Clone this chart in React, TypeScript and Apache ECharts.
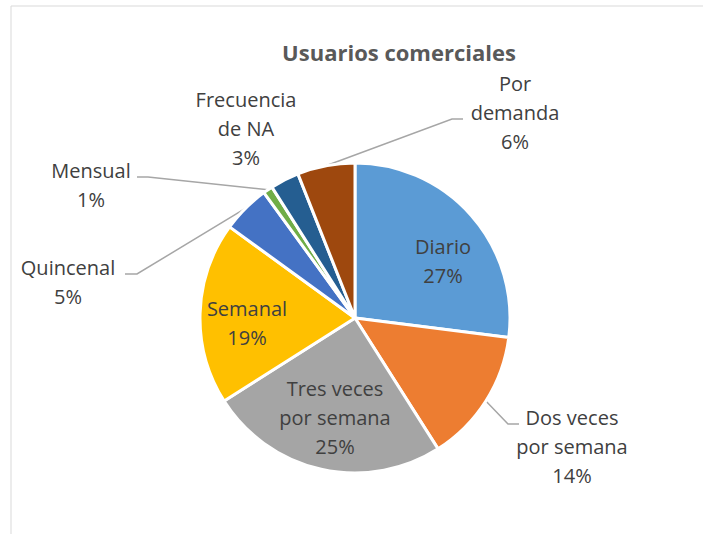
import React, { useEffect, useRef } from "react";
import * as echarts from "echarts";

// ---- data ----
const chartTitle = "Usuarios comerciales";
const categories = [
  "Diario",
  "Dos veces\npor semana",
  "Tres veces\npor semana",
  "Semanal",
  "Quincenal",
  "Mensual",
  "Frecuencia\nde NA",
  "Por\ndemanda",
];
const values = [27, 14, 25, 19, 5, 1, 3, 6];
const colors = ["#5B9BD5", "#ED7D31", "#A5A5A5", "#FFC000", "#4472C4", "#70AD47", "#255E91", "#9E480E"];

// ---- layout (positions only) ----
const CENTER: [number, number] = [355, 318];
const RADIUS = 155;
type Place = { x: number; y: number; inside?: boolean; line?: number[][] };
const placements: Place[] = [
  { x: 443, y: 261, inside: true },
  { x: 572, y: 446, line: [[508, 424], [519, 424]] },
  { x: 335, y: 417, inside: true },
  { x: 247, y: 323, inside: true },
  { x: 68, y: 282, line: [[137, 274], [125, 274]] },
  { x: 91, y: 185, line: [[148, 177], [137, 177]] },
  { x: 246, y: 128 },
  { x: 515, y: 112, line: [[452, 119], [463, 119]] },
];

const FONT = "'Open Sans', 'Noto Sans', sans-serif";

export default function App() {
  const ref = useRef<HTMLDivElement>(null);
  useEffect(() => {
    document.body.style.margin = "0";
    if (!ref.current) return;
    const chart = echarts.init(ref.current, null, { renderer: "svg" });
    const total = values.reduce((a, b) => a + b, 0);
    const edgePoint = (i: number) => {
      const before = values.slice(0, i).reduce((a, b) => a + b, 0);
      const mid = ((before + values[i] / 2) / total) * Math.PI * 2;
      return [CENTER[0] + RADIUS * Math.sin(mid), CENTER[1] - RADIUS * Math.cos(mid)];
    };
    chart.setOption({
      animation: false,
      backgroundColor: "#ffffff",
      title: {
        text: chartTitle,
        left: 394,
        top: 47,
        textAlign: "center",
        textVerticalAlign: "middle",
        textStyle: { fontFamily: FONT, fontSize: 22, fontWeight: "bold", color: "#595959" },
      },
      graphic: [
        {
          type: "rect",
          shape: { x: 11, y: 6, width: 800, height: 600 },
          style: { fill: "none", stroke: "#D9D9D9", lineWidth: 1 },
          silent: true,
          z: -1,
        },
      ],
      series: [
        {
          type: "pie",
          center: CENTER,
          radius: RADIUS,
          startAngle: 90,
          clockwise: true,
          avoidLabelOverlap: false,
          itemStyle: { borderColor: "#ffffff", borderWidth: 3 },
          data: categories.map((name, i) => ({
            name,
            value: values[i],
            itemStyle: { color: colors[i] },
            label: { position: placements[i].inside ? "inside" : "outside" },
            labelLine: { show: !!placements[i].line },
          })),
          label: {
            formatter: "{b}\n{c}%",
            fontFamily: FONT,
            fontSize: 20,
            lineHeight: 29,
            color: "#404040",
            align: "center",
          },
          labelLine: {
            lineStyle: { color: "#A6A6A6", width: 1.5 },
            length: 20,
            length2: 10,
          },
          labelLayout: (p: any) => {
            const pl = placements[p.dataIndex];
            const res: any = { x: pl.x, y: pl.y, align: "center", verticalAlign: "middle" };
            if (pl.line) {
              res.labelLinePoints = [edgePoint(p.dataIndex), pl.line[0], pl.line[1]];
            }
            return res;
          },
        },
      ],
    });
    return () => chart.dispose();
  }, []);
  return <div ref={ref} style={{ width: 703, height: 534 }} />;
}
